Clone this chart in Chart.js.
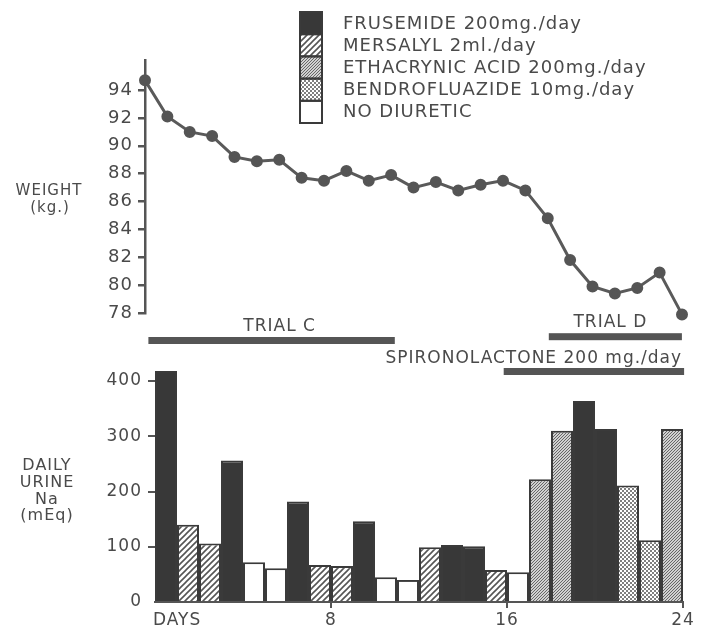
<!DOCTYPE html>
<html><head><meta charset="utf-8">
<script src="https://cdn.jsdelivr.net/npm/chart.js@4.4.0/dist/chart.umd.min.js"></script>
<style>
html,body{margin:0;padding:0;background:#fff;}
#wrap{position:relative;width:705px;height:630px;background:#fff;}
canvas{position:absolute;left:0;top:0;}
</style></head><body>
<div id="wrap"><canvas id="cNa" width="705" height="630"></canvas><canvas id="cW" width="705" height="630"></canvas></div>
<script>
// ---------- DATA ----------
const weightDays = [0,1,2,3,4,5,6,7,8,9,10,11,12,13,14,15,16,17,18,19,20,21,22,23,24];
const weightKg   = [94.7,92.1,91.0,90.7,89.2,88.9,89.0,87.7,87.5,88.2,87.5,87.9,87.0,87.4,86.8,87.2,87.5,86.8,84.8,81.8,79.9,79.4,79.8,80.9,77.9];
const weightTicks = [78,80,82,84,86,88,90,92,94];

const naDays   = [0.5,1.5,2.5,3.5,4.5,5.5,6.5,7.5,8.5,9.5,10.5,11.5,12.5,13.5,14.5,15.5,16.5,17.5,18.5,19.5,20.5,21.5,22.5,23.5];
const urineNa  = [418,140,106,256,72,61,182,67,65,146,45,40,99,103,101,58,54,222,310,364,313,211,112,313];
const diuretic = ['F','M','M','F','N','N','F','M','M','F','N','N','M','F','F','M','N','E','E','F','F','B','B','E'];
const naTicks  = [0,100,200,300,400];
const dayTicks = [0,8,16,24];
const dayTickLabels = ['DAYS','8','16','24'];

const legendKeys   = ['F','M','E','B','N'];
const legendLabels = ['FRUSEMIDE 200mg./day','MERSALYL 2ml./day','ETHACRYNIC ACID 200mg./day','BENDROFLUAZIDE 10mg./day','NO DIURETIC'];

const trialNames  = ['TRIAL C','TRIAL D','SPIRONOLACTONE 200 mg./day'];
const trialFrom   = [-0.3, 17.9, 15.85];
const trialTo     = [10.9, 23.95, 24.05];

// ---------- STYLE ----------
const INK = '#4a4a4a';
const LINE = '#555';
const FONT = '"DejaVu Sans", sans-serif';

function makeFill(kind){
  if (kind === 'F') return '#383838';
  if (kind === 'N') return '#ffffff';
  const c = document.createElement('canvas');
  let g;
  if (kind === 'M') {
    const s = 6; c.width = c.height = s; g = c.getContext('2d');
    g.fillStyle = '#fff'; g.fillRect(0,0,s,s);
    g.strokeStyle = '#555'; g.lineWidth = 1.6;
    g.beginPath();
    g.moveTo(0,s); g.lineTo(s,0);
    g.moveTo(-2,2); g.lineTo(2,-2);
    g.moveTo(s-2,s+2); g.lineTo(s+2,s-2);
    g.stroke();
  } else if (kind === 'E') {
    const s = 3; c.width = c.height = s; g = c.getContext('2d');
    g.fillStyle = '#d0d0d0'; g.fillRect(0,0,s,s);
    g.strokeStyle = '#666'; g.lineWidth = 1;
    g.beginPath();
    g.moveTo(0,s); g.lineTo(s,0);
    g.moveTo(-1,1); g.lineTo(1,-1);
    g.moveTo(s-1,s+1); g.lineTo(s+1,s-1);
    g.stroke();
  } else if (kind === 'B') {
    const s = 4; c.width = c.height = s; g = c.getContext('2d');
    g.fillStyle = '#fff'; g.fillRect(0,0,s,s);
    g.fillStyle = '#555';
    g.beginPath(); g.arc(1,1,1,0,Math.PI*2); g.fill();
    g.beginPath(); g.arc(3,3,1,0,Math.PI*2); g.fill();
  }
  return document.getElementById('cW').getContext('2d').createPattern(c,'repeat');
}
const fills = {F:makeFill('F'), M:makeFill('M'), E:makeFill('E'), B:makeFill('B'), N:makeFill('N')};

const spacing = {
  id: 'spacing',
  beforeUpdate(chart){ chart.ctx.letterSpacing = '1px'; },
  beforeDraw(chart){ chart.ctx.letterSpacing = '1px'; }
};

// ---------- WEIGHT CHART ----------
const weightPlugin = {
  id: 'weightExtras',
  afterDraw(chart){
    const ctx = chart.ctx;
    ctx.save();
    const sx = 300, sw = 22, sy = 12, sh = 22.2;
    legendKeys.forEach((k,i)=>{
      ctx.fillStyle = fills[k];
      ctx.fillRect(sx, sy + i*sh, sw, sh);
    });
    ctx.strokeStyle = '#3a3a3a'; ctx.lineWidth = 2;
    legendKeys.forEach((k,i)=>{ ctx.strokeRect(sx, sy + i*sh, sw, sh); });
    ctx.fillStyle = INK;
    ctx.font = '18px ' + FONT;
    ctx.textAlign = 'left'; ctx.textBaseline = 'middle';
    legendLabels.forEach((t,i)=>{ ctx.fillText(t, 343, 24 + i*22.2); });
    ctx.font = '15px ' + FONT;
    ctx.textAlign = 'center';
    ctx.fillText('WEIGHT', 49, 191);
    ctx.fillText('(kg.)', 50, 208);
    ctx.restore();
  }
};

new Chart(document.getElementById('cW'), {
  type: 'line',
  data: {
    datasets: [{
      data: weightDays.map((d,i)=>({x:d, y:weightKg[i]})),
      borderColor: '#5a5a5a', borderWidth: 3,
      pointRadius: 4.5, pointBackgroundColor: '#555', pointBorderColor: '#555',
      tension: 0, clip: false
    }]
  },
  options: {
    responsive: false, animation: false, devicePixelRatio: 1,
    layout: { padding: { top: 60, bottom: 317, left: 0, right: 23 } },
    plugins: { legend: {display:false}, tooltip: {enabled:false} },
    scales: {
      x: { type: 'linear', min: 0, max: 24, display: false },
      y: {
        type: 'linear', min: 78, max: 96.16,
        afterBuildTicks: s => { s.ticks = weightTicks.map(v=>({value:v})); },
        afterFit: s => { s.width = 145; },
        ticks: { color: INK, font: { family: FONT, size: 18 }, padding: 5 },
        grid: { drawOnChartArea: false, tickLength: 7, color: LINE, lineWidth: 2.5 },
        border: { display: true, color: LINE, width: 2.5 }
      }
    }
  },
  plugins: [spacing, weightPlugin]
});

// ---------- URINE Na CHART ----------
const naPlugin = {
  id: 'naExtras',
  afterDraw(chart){
    const ctx = chart.ctx, xs = chart.scales.x;
    ctx.save();
    ctx.fillStyle = INK;
    ctx.font = '16px ' + FONT;
    ctx.textAlign = 'center'; ctx.textBaseline = 'middle';
    ['DAILY','URINE','Na','(mEq)'].forEach((t,i)=>ctx.fillText(t, 47, 466 + i*16.7));
    ctx.font = '17px ' + FONT;
    ctx.textAlign = 'left';
    ctx.fillText(dayTickLabels[0], xs.getPixelForValue(dayTicks[0]) - 2, 621);
    const barY = [340.5, 336.7, 371.5];
    ctx.fillStyle = '#555';
    trialNames.forEach((n,i)=>{
      const a = xs.getPixelForValue(trialFrom[i]), b = xs.getPixelForValue(trialTo[i]);
      ctx.fillRect(a, barY[i]-3.5, b-a, 7);
    });
    ctx.fillStyle = INK;
    ctx.font = '17px ' + FONT;
    let a = xs.getPixelForValue(trialFrom[0]), b = xs.getPixelForValue(trialTo[0]);
    ctx.textAlign = 'center';
    ctx.fillText(trialNames[0], (a+b)/2 + 8, 327);
    a = xs.getPixelForValue(trialFrom[1]); b = xs.getPixelForValue(trialTo[1]);
    ctx.fillText(trialNames[1], (a+b)/2 - 5, 322.5);
    b = xs.getPixelForValue(trialTo[2]);
    ctx.textAlign = 'right';
    ctx.fillText(trialNames[2], b - 2, 359);
    ctx.restore();
  }
};

new Chart(document.getElementById('cNa'), {
  type: 'bar',
  data: {
    datasets: [{
      data: naDays.map((d,i)=>({x:d, y:urineNa[i]})),
      backgroundColor: diuretic.map(k=>fills[k]),
      borderColor: '#3a3a3a', borderWidth: 2, inflateAmount: 0,
      barPercentage: 1, categoryPercentage: 1, borderSkipped: 'bottom'
    }]
  },
  options: {
    responsive: false, animation: false, devicePixelRatio: 1,
    datasets: { bar: { barPercentage: 1, categoryPercentage: 1 } },
    layout: { padding: { top: 370, bottom: 0, left: 0, right: 22 } },
    plugins: { legend: {display:false}, tooltip: {enabled:false} },
    scales: {
      x: {
        type: 'linear', min: 0, max: 24, offset: false,
        afterBuildTicks: s => { s.ticks = dayTicks.map(v=>({value:v})); },
        afterFit: s => { s.height = 28; },
        ticks: { color: INK, font: { family: FONT, size: 17 }, padding: 2, maxRotation: 0,
                 callback: (v, i) => i === 0 ? '' : dayTickLabels[i] },
        grid: { offset: false, drawOnChartArea: false, tickLength: 6, lineWidth: 2,
                color: c => (c.tick && c.tick.value === 0) ? 'rgba(0,0,0,0)' : LINE },
        border: { display: true, color: LINE, width: 2 }
      },
      y: {
        type: 'linear', min: 0, max: 420,
        afterBuildTicks: s => { s.ticks = naTicks.map(v=>({value:v})); },
        afterFit: s => { s.width = 155; },
        ticks: { color: INK, font: { family: FONT, size: 17 }, padding: 6 },
        grid: { drawOnChartArea: false, tickLength: 7, lineWidth: 2,
                color: c => (c.tick && c.tick.value === 0) ? 'rgba(0,0,0,0)' : LINE },
        border: { display: false }
      }
    }
  },
  plugins: [spacing, naPlugin]
});
</script>
</body></html>
